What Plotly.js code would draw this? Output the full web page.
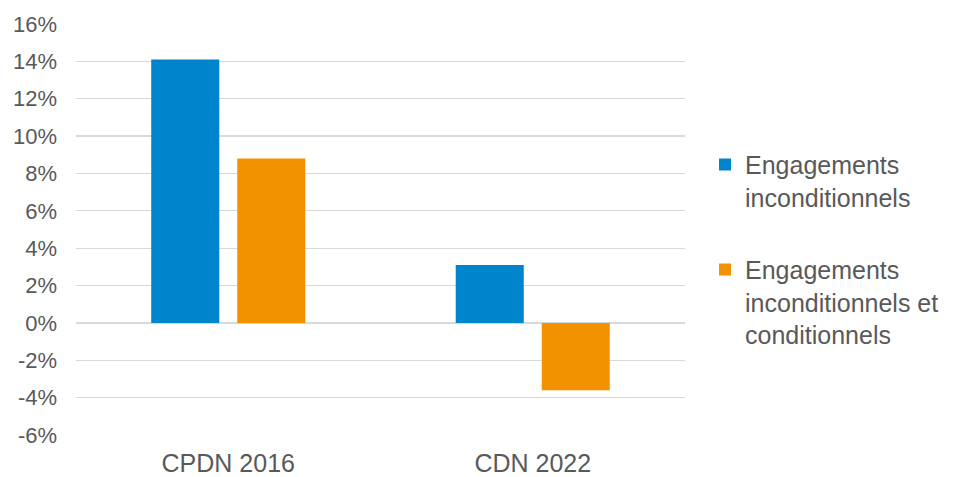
<!DOCTYPE html>
<html>
<head>
<meta charset="utf-8">
<script src="https://cdn.plot.ly/plotly-3.0.1.min.js"></script>
<style>html,body{margin:0;padding:0;background:#fff;}#chart{width:953px;height:477px;}</style>
</head>
<body>
<div id="chart"></div>
<script>
const categories = ["CPDN 2016", "CDN 2022"];
const seriesNames = ["Engagements<br>inconditionnels", "Engagements<br>inconditionnels et<br>conditionnels"];
const unconditional = [14.1, 3.1];
const unconditionalAndConditional = [8.8, -3.6];
const tickValues = [-6, -4, -2, 0, 2, 4, 6, 8, 10, 12, 14, 16];
const tickLabels = ["-6%", "-4%", "-2%", "0%", "2%", "4%", "6%", "8%", "10%", "12%", "14%", "16%"];

const textColor = "#595959";
const font = "Liberation Sans, Arial, sans-serif";

const traces = [
  {type: "bar", x: categories, y: unconditional, name: seriesNames[0], legendgroup: "a",
   marker: {color: "#0085CC"}, hoverinfo: "x+y"},
  {type: "bar", x: categories, y: unconditionalAndConditional, name: seriesNames[1], legendgroup: "b",
   marker: {color: "#F39200"}, hoverinfo: "x+y"}
];

const layout = {
  width: 953, height: 477,
  margin: {l: 76, r: 268, t: 24, b: 42},
  paper_bgcolor: "#fff", plot_bgcolor: "#fff",
  font: {family: font, color: textColor},
  barmode: "group", bargap: 0.435, bargroupgap: 0.209,
  showlegend: true,
  legend: {xref: "container", yref: "container", x: 0.7398, xanchor: "left", y: 0.7026, yanchor: "top", valign: "top",
           font: {size: 25, color: textColor, family: font},
           traceorder: "grouped", tracegroupgap: 37, itemwidth: 30},
  xaxis: {showgrid: false, zeroline: false, showline: false, ticks: "",
          tickfont: {size: 25, color: textColor}, ticklabelstandoff: 11},
  yaxis: {range: [-6, 16], tickvals: tickValues, ticktext: tickLabels,
          showgrid: true, gridcolor: "#D9D9D9", gridwidth: 1.3,
          zeroline: true, zerolinecolor: "#D9D9D9", zerolinewidth: 1.6,
          showline: false, ticks: "", tickfont: {size: 22, color: textColor},
          ticklabelstandoff: 18}
};

Plotly.newPlot("chart", traces, layout, {displayModeBar: false, staticPlot: true});
</script>
</body>
</html>
